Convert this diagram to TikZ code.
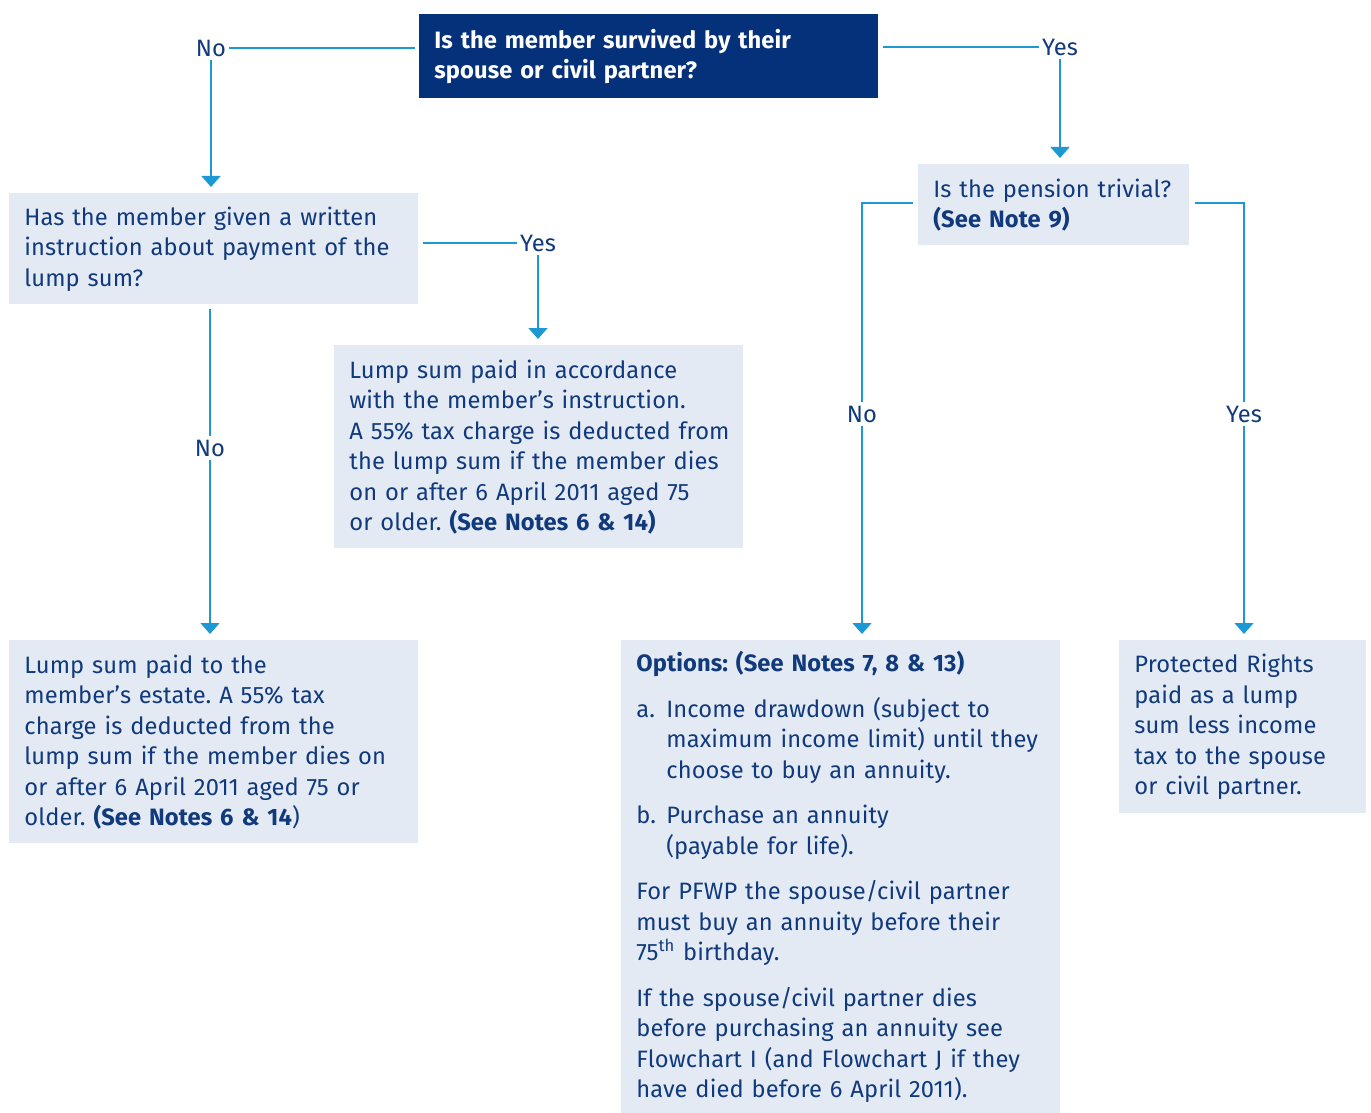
\documentclass[tikz,border=0pt]{standalone}
\usepackage{fontspec}
\setmainfont{Fira Sans}[LetterSpace=0.4]
\usetikzlibrary{arrows.meta,positioning,calc}
\definecolor{Navy}{RGB}{4,49,122}
\definecolor{Ink}{RGB}{16,58,124}
\definecolor{Pale}{RGB}{228,234,244}
\definecolor{Wire}{RGB}{28,152,213}
\tikzset{
  box/.style={fill=Pale,text=Ink,align=left,anchor=north west,inner xsep=7.5pt,inner ysep=0pt,font=\fontsize{11.85}{15.25}\selectfont},
  topq/.style={box,fill=Navy,text=white,font=\fontsize{11.85}{15.25}\selectfont\bfseries},
  answer/.style={fill=white,text=Ink,inner sep=1.5pt,font=\fontsize{11.85}{14}\selectfont},
  wire/.style={draw=Wire,line width=0.75pt},
  arrow/.style={wire,-{Triangle[width=9.5pt,length=5.5pt]},shorten >=3pt}
}
\frenchspacing
\begin{document}
\begin{tikzpicture}[x=0.5pt,y=-0.5pt]
\useasboundingbox (0,0) rectangle (1371,1113);

\node[topq,text width=214.5pt,minimum height=42pt] (survived) at (419,14) {Is the member survived by their\\spouse or civil partner?};
\node[box,text width=189.5pt,minimum height=55.5pt] (written) at (9,193) {Has the member given a written\\instruction about payment of the\\lump sum?};
\node[box,text width=189.5pt,minimum height=101.5pt] (accord) at (334,345) {Lump sum paid in accordance\\with the member’s instruction.\\\mbox{A 55\% tax charge is deducted from}\\the lump sum if the member dies\\on or after 6 April 2011 aged 75\\or older. \textbf{(See Notes 6 \& 14)}};
\node[box,text width=189.5pt,minimum height=101.5pt] (estate) at (9,640) {Lump sum paid to the\\member’s estate. A 55\% tax\\charge is deducted from the\\lump sum if the member dies on\\or after 6 April 2011 aged 75 or\\older. \textbf{(See Notes 6 \& 14})};
\node[box,text width=120.5pt,minimum height=40.5pt] (trivial) at (918,164) {\mbox{Is the pension trivial?}\\\textbf{(See Note 9)}};
\node[box,text width=204.5pt,minimum height=236.5pt] (options) at (621,640) {\textbf{Options: (See Notes 7, 8 \& 13)}\\[7.5pt]
\makebox[15pt][l]{a.}Income drawdown (subject to\\\hspace*{15pt}\mbox{maximum income limit) until they}\\\hspace*{15pt}choose to buy an annuity.\\[7.5pt]
\makebox[15pt][l]{b.}Purchase an annuity\\\hspace*{15pt}(payable for life).\\[7.5pt]
For PFWP the spouse/civil partner\\must buy an annuity before their\\75\textsuperscript{th} birthday.\\[7.5pt]
If the spouse/civil partner dies\\before purchasing an annuity see\\\mbox{Flowchart I (and Flowchart J if they}\\have died before 6 April 2011).};
\node[box,text width=108.5pt,minimum height=86.5pt] (protected) at (1119,640) {Protected Rights\\paid as a lump\\sum less income\\tax to the spouse\\or civil partner.};

\node[answer] (noTop) at (211,48) {No};
\node[answer] (yesTop) at (1060,47) {Yes};
\node[answer] (yesWritten) at (538,243) {Yes};
\node[answer] (noWritten) at (210,448) {No};
\node[answer] (noTrivial) at (862,414) {No};
\node[answer] (yesTrivial) at (1244,414) {Yes};
\coordinate (cornerL) at (862,203);
\coordinate (cornerR) at (1244,203);

\draw[wire,shorten >=2pt] (noTop) -- (noTop -| survived.west);
\draw[arrow] (noTop) -- (noTop |- written.north);
\draw[wire,shorten >=2pt] (yesTop) -- (yesTop -| survived.east);
\draw[arrow] (yesTop) -- (yesTop |- trivial.north);
\draw[wire,shorten >=2pt] (yesWritten) -- (yesWritten -| written.east);
\draw[arrow] (yesWritten) -- (yesWritten |- accord.north);
\draw[wire,shorten <=2pt] (noWritten |- written.south) -- (noWritten);
\draw[arrow] (noWritten) -- (noWritten |- estate.north);
\draw[wire,shorten <=2.5pt] (cornerL -| trivial.west) -- (cornerL) -- (noTrivial);
\draw[arrow] (noTrivial) -- (noTrivial |- options.north);
\draw[wire,shorten <=2.5pt] (cornerR -| trivial.east) -- (cornerR) -- (yesTrivial);
\draw[arrow] (yesTrivial) -- (yesTrivial |- protected.north);
\end{tikzpicture}
\end{document}
